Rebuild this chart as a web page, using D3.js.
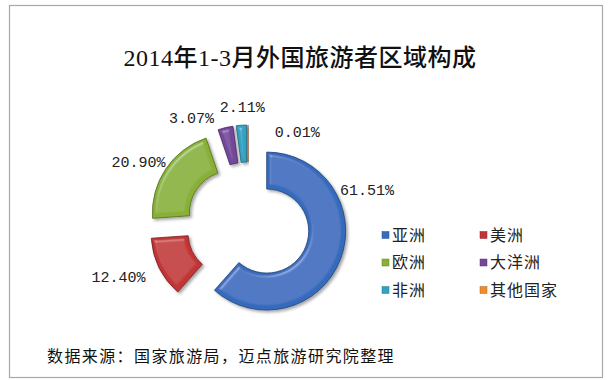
<!DOCTYPE html>
<html>
<head>
<meta charset="utf-8">
<script src="https://cdn.jsdelivr.net/npm/d3@7"></script>
<style>
  body { margin: 0; background: #fff; }
  svg { display: block; }
</style>
</head>
<body>
<svg id="chart" width="608" height="380"></svg>
<script>
// 2014年1-3月外国旅游者区域构成
var categories = ["亚洲", "美洲", "欧洲", "大洋洲", "非洲", "其他国家"];
var shares = [61.51, 12.40, 20.90, 3.07, 2.11, 0.01];
var shareLabels = ["61.51%", "12.40%", "20.90%", "3.07%", "2.11%", "0.01%"];
var colors = ["#366bbd", "#c13434", "#88b035", "#74479b", "#33a2c2", "#f08a2c"];

// label layout (Excel "best fit" moved some of them off the slice middle)
var labelShift = [-37, 4, -4, -15, 1, 28];   // degrees from slice middle
var labelRadius = [124, 140, 126, 120, 117, 105];

var width = 608, height = 380;
var cx = 248, cy = 224;
var rOuter = 79, rInner = 42, explode = 20;

var svg = d3.select("#chart");
var defs = svg.append("defs");

var f = defs.append("filter").attr("id", "bevel")
    .attr("x", "-20%").attr("y", "-20%").attr("width", "140%").attr("height", "140%");
f.append("feGaussianBlur").attr("in", "SourceAlpha").attr("stdDeviation", 2).attr("result", "blur");
var spec = f.append("feSpecularLighting").attr("in", "blur")
    .attr("surfaceScale", 4).attr("specularConstant", 0.55)
    .attr("specularExponent", 28).attr("lighting-color", "#ffffff").attr("result", "spec");
spec.append("feDistantLight").attr("azimuth", 235).attr("elevation", 50);
f.append("feComposite").attr("in", "spec").attr("in2", "SourceAlpha")
    .attr("operator", "in").attr("result", "specIn");
f.append("feComposite").attr("in", "SourceGraphic").attr("in2", "specIn")
    .attr("operator", "arithmetic").attr("k1", 0).attr("k2", 1).attr("k3", 0.45).attr("k4", 0)
    .attr("result", "lit");
f.append("feGaussianBlur").attr("in", "SourceAlpha").attr("stdDeviation", 1.5).attr("result", "sh");
f.append("feOffset").attr("in", "sh").attr("dx", 1.5).attr("dy", 2).attr("result", "shOff");
f.append("feComponentTransfer").attr("in", "shOff").attr("result", "shFade")
    .append("feFuncA").attr("type", "linear").attr("slope", 0.35);
var merge = f.append("feMerge");
merge.append("feMergeNode").attr("in", "shFade");
merge.append("feMergeNode").attr("in", "lit");

// frame
svg.append("rect")
    .attr("x", 9.5).attr("y", 5.5)
    .attr("width", 593).attr("height", 372)
    .attr("fill", "#fff")
    .attr("stroke", "#a8a8a8")
    .attr("stroke-width", 1.2);

// title
svg.append("text")
    .attr("x", 300).attr("y", 66)
    .attr("text-anchor", "middle")
    .attr("font-family", "'Liberation Serif', 'Noto Sans CJK SC', serif")
    .attr("font-size", 24)
    .attr("font-weight", 500)
    .attr("letter-spacing", 0.5)
    .attr("fill", "#111")
    .text("2014年1-3月外国旅游者区域构成");

var pie = d3.pie().sort(null).value(function(d) { return d; });
var arcs = pie(shares);

var arc = d3.arc().innerRadius(rInner).outerRadius(rOuter);

function mid(d) { return (d.startAngle + d.endAngle) / 2; }

var g = svg.append("g").attr("transform", "translate(" + cx + "," + cy + ")");

g.selectAll("path.slice")
    .data(arcs)
    .enter()
    .append("path")
    .attr("class", "slice")
    .attr("transform", function(d) {
        var a = mid(d);
        return "translate(" + (explode * Math.sin(a)) + "," + (-explode * Math.cos(a)) + ")";
    })
    .attr("d", arc)
    .attr("fill", function(d, i) { return colors[i]; })
    .attr("stroke", function(d, i) { return d3.color(colors[i]).darker(1.4); })
    .attr("stroke-width", 0.8)
    .attr("filter", "url(#bevel)");

// data labels
g.selectAll("text.lbl")
    .data(arcs)
    .enter()
    .append("text")
    .attr("class", "lbl")
    .attr("x", function(d, i) {
        var a = mid(d) + labelShift[i] * Math.PI / 180;
        return labelRadius[i] * Math.sin(a);
    })
    .attr("y", function(d, i) {
        var a = mid(d) + labelShift[i] * Math.PI / 180;
        return -labelRadius[i] * Math.cos(a);
    })
    .attr("dy", "0.35em")
    .attr("text-anchor", "middle")
    .attr("font-family", "'Liberation Mono', monospace")
    .attr("font-size", 15)
    .attr("fill", "#222")
    .text(function(d, i) { return shareLabels[i]; });

// legend, two columns
var legX = d3.scalePoint().domain([0, 1]).range([382, 480]);
var legY = d3.scalePoint().domain([0, 1, 2]).range([235, 290]);

var leg = svg.selectAll("g.leg")
    .data(categories)
    .enter()
    .append("g")
    .attr("class", "leg")
    .attr("transform", function(d, i) {
        return "translate(" + legX(i % 2) + "," + legY(Math.floor(i / 2)) + ")";
    });

leg.append("rect")
    .attr("x", 0).attr("y", -3.5)
    .attr("width", 7).attr("height", 7)
    .attr("fill", function(d, i) { return colors[i]; })
    .attr("stroke", function(d, i) { return d3.color(colors[i]).darker(0.8); })
    .attr("stroke-width", 0.5);

leg.append("text")
    .attr("x", 10)
    .attr("dy", "0.36em")
    .attr("font-family", "'Noto Sans CJK SC', sans-serif")
    .attr("font-size", 16)
    .attr("letter-spacing", 1)
    .attr("fill", "#222")
    .text(function(d) { return d; });

// source note
svg.append("text")
    .attr("x", 47).attr("y", 356)
    .attr("dy", "0.36em")
    .attr("font-family", "'Noto Sans CJK SC', sans-serif")
    .attr("font-size", 16)
    .attr("letter-spacing", 1.4)
    .attr("fill", "#111")
    .text("数据来源：国家旅游局，迈点旅游研究院整理");
</script>
</body>
</html>
